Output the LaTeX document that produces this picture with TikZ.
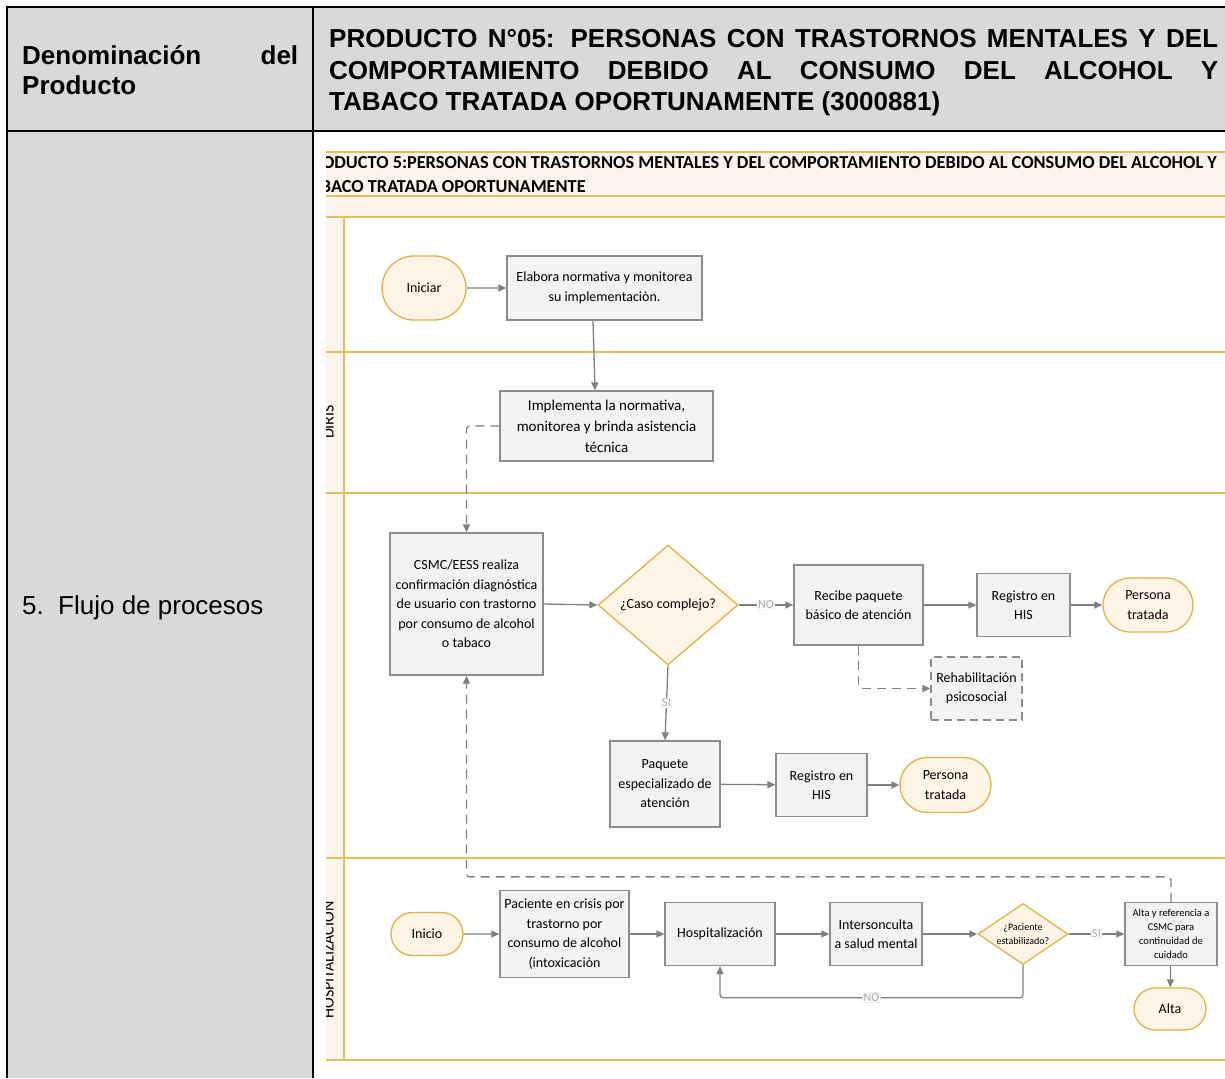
\documentclass[tikz,border=0pt]{standalone}
\usepackage{fontspec}
\setmainfont{Liberation Sans}
\newfontfamily\diafont{Carlito}
\usetikzlibrary{shapes.geometric,shapes.misc,arrows.meta}

\definecolor{cellgray}{HTML}{D9D9D9}
\definecolor{lanegold}{HTML}{E2BF5C}
\definecolor{lanepeach}{HTML}{FDF5EC}
\definecolor{boxfill}{HTML}{F3F3F3}
\definecolor{boxline}{HTML}{8C8C8C}
\definecolor{termfill}{HTML}{FFF5E6}
\definecolor{termline}{HTML}{DAB448}
\definecolor{flowgray}{HTML}{808080}

\begin{document}
\begin{tikzpicture}[x=1pt,y=-1pt,
    proc/.style={draw=boxline,fill=boxfill,line width=1.3pt,align=center,inner sep=1pt,
      font=\diafont\fontsize{14}{19.5}\selectfont},
    term/.style={rounded rectangle,draw=termline,fill=termfill,line width=1.3pt,align=center,
      inner sep=1pt,font=\diafont\fontsize{14}{19.5}\selectfont},
    decision/.style={diamond,draw=termline,fill=termfill,line width=1.3pt,inner sep=0pt},
    flow/.style={draw=flowgray,line width=1.3pt,-{Triangle[length=8pt,width=7pt]},rounded corners=3pt},
    dflow/.style={flow,dash pattern=on 9pt off 6pt},
    tag/.style={fill=white,draw=black!12,line width=0.5pt,text=black!35,inner sep=1pt,
      font=\diafont\fontsize{12}{12}\selectfont},
    lane/.style={draw=lanegold,line width=2pt},
    tablerule/.style={draw=black,line width=2.2pt}]

\useasboundingbox (0,0) rectangle (1225,1078);

% table
\fill[cellgray] (7,7) rectangle (1225,131);
\fill[cellgray] (7,131) rectangle (313,1078);
\draw[tablerule] (7,1078) -- (7,7) -- (1225,7);
\draw[tablerule] (7,131) -- (1225,131);
\draw[tablerule] (313,7) -- (313,1078);

\node[anchor=west,align=left,inner sep=0pt,font=\fontsize{26}{30}\selectfont\bfseries] (denom) at (22,70)
  {\makebox[276pt][s]{Denominación del}\\Producto};
\node[anchor=west,align=left,inner sep=0pt,font=\fontsize{26}{31.5}\selectfont\bfseries] (producto) at (329,73)
  {\makebox[889pt][s]{PRODUCTO N°05: PERSONAS CON TRASTORNOS MENTALES Y DEL}\\
   \makebox[889pt][s]{COMPORTAMIENTO DEBIDO AL CONSUMO DEL ALCOHOL Y}\\
   TABACO TRATADA OPORTUNAMENTE (3000881)};
\node[anchor=west,inner sep=0pt,font=\fontsize{26}{30}\selectfont] (flujo) at (22,608)
  {\makebox[36pt][l]{5.}Flujo de procesos};

% lanes
\fill[lanepeach] (326,152) rectangle (1225,217);
\fill[lanepeach] (326,217) rectangle (344,1060);
\foreach \y in {152,196,217,352,493,858,1060}
  \draw[lane] (326,\y) -- (1225,\y);
\draw[lane] (344,217) -- (344,1060);

\begin{scope}
  \clip (326,140) rectangle (1225,1078);
  \node[anchor=north west,align=left,inner sep=0pt,font=\diafont\fontsize{18.3}{24}\selectfont\bfseries] (titulo) at (302,156)
    {PRODUCTO 5:PERSONAS CON TRASTORNOS MENTALES Y DEL COMPORTAMIENTO DEBIDO AL CONSUMO DEL ALCOHOL Y\\
     TABACO TRATADA OPORTUNAMENTE};
  \node[rotate=90,anchor=base,inner sep=0pt,font=\diafont\fontsize{16}{16}\selectfont] (diris) at (333.5,422) {DIRIS};
  \node[rotate=90,anchor=base,inner sep=0pt,font=\diafont\fontsize{16}{16}\selectfont] (hospi) at (333.5,960) {HOSPITALIZACIÓN};
\end{scope}

% nodes
\node[term,minimum width=86pt,minimum height=64pt] (iniciar) at (424,288) {Iniciar};
\node[proc,minimum width=195pt,minimum height=64pt] (elabora) at (604.5,288) {Elabora normativa y monitorea\\su implementaciòn.};
\node[proc,minimum width=213pt,minimum height=70pt,font=\diafont\fontsize{15}{21}\selectfont] (implementa) at (606.5,426)
  {Implementa la normativa,\\monitorea y brinda asistencia\\técnica};
\node[proc,minimum width=153pt,minimum height=142pt] (csmc) at (466.5,604)
  {CSMC/EESS realiza\\confirmación diagnóstica\\de usuario con trastorno\\por consumo de alcohol\\o tabaco};
\node[decision,minimum width=140pt,minimum height=120pt] (caso) at (668,605) {};
\node[font=\diafont\fontsize{14}{19.5}\selectfont] (casotxt) at (caso) {¿Caso complejo?};
\node[proc,minimum width=129pt,minimum height=80pt] (recibe) at (858.5,605) {Recibe paquete\\básico de atención};
\node[proc,minimum width=93pt,minimum height=63pt] (registro) at (1023.5,605) {Registro en\\HIS};
\node[term,minimum width=92pt,minimum height=54pt] (tratada) at (1148,605) {Persona\\tratada};
\node[proc,draw=black!45,dash pattern=on 8pt off 5pt,minimum width=91pt,minimum height=63pt] (rehab) at (976.5,688.5)
  {Rehabilitación\\psicosocial};
\node[proc,minimum width=110pt,minimum height=86pt] (paquete) at (665,784) {Paquete\\especializado de\\atención};
\node[proc,minimum width=91pt,minimum height=63pt] (registrob) at (821.5,785) {Registro en\\HIS};
\node[term,minimum width=93pt,minimum height=55pt] (tratadab) at (945.5,785) {Persona\\tratada};

\node[term,minimum width=74pt,minimum height=43pt] (inicio) at (427,934) {Inicio};
\node[proc,minimum width=129pt,minimum height=87pt] (paciente) at (564.5,934)
  {Paciente en crisis por\\trastorno por\\consumo de alcohol\\(intoxicaciòn};
\node[proc,minimum width=110pt,minimum height=63pt] (hospital) at (720,934) {Hospitalización};
\node[proc,minimum width=92pt,minimum height=63pt] (intercon) at (876,934) {Intersonculta\\a salud mental};
\node[decision,minimum width=90pt,minimum height=61pt] (estable) at (1023,934) {};
\node[align=center,font=\diafont\fontsize{10}{14}\selectfont] (establetxt) at (estable) {¿Paciente\\estabilizado?};
\node[proc,minimum width=92pt,minimum height=63pt,font=\diafont\fontsize{10.5}{14}\selectfont] (altaref) at (1171,934)
  {Alta y referencia a\\CSMC para\\continuidad de\\cuidado};
\node[term,minimum width=74pt,minimum height=42pt] (alta) at (1170,1009) {Alta};

% connectors
\draw[flow] (iniciar) -- (elabora);
\draw[flow] ([xshift=-11.5pt]elabora.south) -- ([xshift=-11.5pt]implementa.north);
\draw[dflow] (implementa.west) -| (csmc.north);
\draw[flow] (csmc.east) -- (caso.west);
\draw[flow] (caso.east) -- node[tag] (tagno) {NO} (recibe.west);
\draw[flow] (recibe) -- (registro);
\draw[flow] (registro) -- (tratada);
\draw[dflow] (recibe.south) |- (rehab.west);
\draw[flow] (caso.south) -- node[tag] (tagsi) {SI} (paquete.north);
\draw[flow] (paquete) -- (registrob);
\draw[flow] (registrob) -- (tratadab);
\draw[flow] (inicio) -- (paciente);
\draw[flow] (paciente) -- (hospital);
\draw[flow] (hospital) -- (intercon);
\draw[flow] (intercon) -- (estable);
\draw[flow] (estable) -- node[tag] (tagsib) {SI} (altaref);
\draw[flow] (altaref) -- (alta);
\draw[flow] (estable.south) -- ++(0,32.5) -| node[tag,pos=0.25] (tagnob) {NO} (hospital.south);
\draw[dflow] (altaref.north) -- ++(0,-25) -| (csmc.south);
\end{tikzpicture}
\end{document}
